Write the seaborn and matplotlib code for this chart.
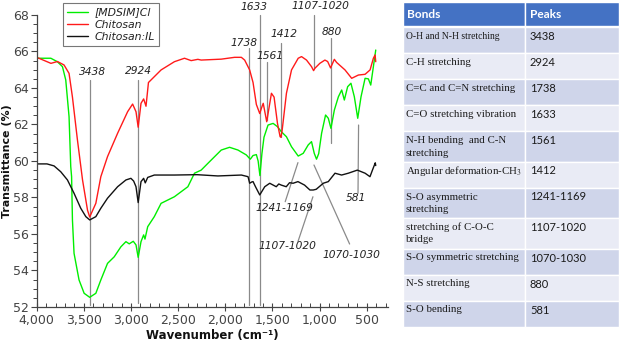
import matplotlib
matplotlib.use('Agg')
import matplotlib.pyplot as plt
import seaborn as sns
import pandas as pd
from matplotlib.ticker import MultipleLocator, StrMethodFormatter
from matplotlib.patches import Rectangle

# --- spectra (wavenumber cm-1, transmittance %) ---
SAMPLES = ["[MDSIM]Cl", "Chitosan", "Chitosan:IL"]
COLORS = ["#00ee00", "#ff1a1a", "#111111"]

IL_WN = [4000, 3850, 3781, 3727, 3692, 3657, 3639, 3630, 3621, 3604, 3551, 3497, 3438, 3373,
         3320, 3249, 3178, 3107, 3054, 3019, 2976, 2947, 2924, 2894, 2866, 2852, 2823, 2753,
         2681, 2540, 2397, 2327, 2256, 2185, 2043, 1955, 1866, 1777, 1745, 1735, 1706, 1671,
         1652, 1633, 1612, 1590, 1547, 1493, 1447, 1405, 1352, 1298, 1227, 1174, 1121, 1086,
         1057, 1033, 1010, 979, 937, 908, 880, 844, 801, 766, 738, 703, 668, 632, 596, 561,
         518, 483, 458, 430, 405]
IL_T = [65.63, 65.63, 65.44, 65.17, 64.44, 62.43, 59.69, 59.14, 56.77, 54.94, 53.48, 52.75,
        52.53, 52.75, 53.48, 54.39, 54.75, 55.3, 55.58, 55.46, 55.6, 55.4, 54.72, 55.58, 55.95,
        55.72, 56.4, 56.95, 57.68, 58.04, 58.59, 59.33, 59.5, 59.87, 60.6, 60.75, 60.6, 60.33,
        60.15, 60.1, 60.3, 60.35, 60.0, 59.2, 60.4, 61.3, 61.97, 62.06, 61.88, 61.6, 61.33,
        60.78, 60.27, 60.42, 60.88, 61.06, 60.42, 60.1, 60.4, 61.52, 62.52, 62.34, 61.79, 62.79,
        63.52, 63.89, 63.34, 64.07, 64.26, 63.52, 62.34, 63.52, 64.53, 64.5, 64.16, 65.17, 66.08]

CS_WN = [4000, 3849, 3780, 3710, 3657, 3621, 3568, 3514, 3461, 3438, 3373, 3320, 3249, 3142,
         3036, 2983, 2947, 2924, 2894, 2866, 2841, 2815, 2681, 2540, 2433, 2362, 2291, 2256,
         2043, 1902, 1830, 1795, 1742, 1706, 1671, 1635, 1610, 1598, 1561, 1511, 1483, 1447,
         1419, 1410, 1397, 1352, 1298, 1227, 1192, 1139, 1086, 1064, 1050, 998, 944, 915, 884,
         844, 820, 731, 660, 589, 518, 465, 430, 412, 405]
CS_T = [65.68, 65.35, 65.45, 65.26, 64.8, 63.5, 61.15, 58.96, 57.3, 56.93, 57.68, 59.14, 60.24,
        61.52, 62.7, 63.12, 62.7, 61.85, 63.16, 63.4, 63.0, 64.3, 64.99, 65.44, 65.63, 65.5,
        65.57, 65.53, 65.58, 65.68, 65.68, 65.53, 64.99, 64.3, 63.1, 62.6, 63.0, 63.16, 62.15,
        63.71, 63.5, 62.06, 61.33, 61.3, 61.7, 63.71, 64.99, 65.63, 65.72, 65.53, 65.17, 64.95,
        65.08, 65.35, 65.53, 65.45, 65.1, 65.57, 65.4, 64.99, 64.53, 64.71, 64.75, 64.99, 65.63,
        65.81, 65.44]

CSIL_WN = [4000, 3891, 3816, 3745, 3674, 3604, 3533, 3479, 3438, 3373, 3320, 3249, 3142, 3054,
           3001, 2972, 2947, 2924, 2894, 2866, 2849, 2823, 2753, 2540, 2300, 2079, 1830, 1759,
           1742, 1720, 1706, 1681, 1635, 1582, 1529, 1500, 1460, 1433, 1407, 1354, 1319, 1281,
           1230, 1160, 1103, 1068, 1036, 961, 908, 837, 767, 696, 600, 518, 466, 440, 419, 410,
           405]
CSIL_T = [59.84, 59.84, 59.73, 59.41, 58.96, 58.23, 57.41, 56.95, 56.77, 56.95, 57.41, 57.96,
          58.59, 58.96, 59.05, 58.9, 58.59, 57.72, 58.87, 59.05, 58.8, 59.1, 59.23, 59.23, 59.25,
          59.18, 59.23, 59.14, 58.78, 58.85, 58.87, 58.6, 58.14, 58.59, 58.78, 58.7, 58.59, 58.74,
          58.68, 58.59, 58.81, 58.78, 58.87, 58.68, 58.41, 58.41, 58.45, 58.78, 58.87, 59.33,
          59.23, 59.33, 59.5, 59.33, 59.14, 59.5, 59.78, 59.9, 59.75]

# peak annotations (upper group: vertical markers)
TOP_LABELS = ["3438", "2924", "1738", "1633", "1561", "1412", "1107-1020", "880"]
TOP_POS = [3438, 2924, 1745, 1633, 1561, 1410, 1064, 880]
TOP_LINE_HI = [64.45, 64.45, 66.2, 68.0, 65.42, 66.47, 68.0, 66.74]
TOP_LINE_LO = [52.1, 52.2, 52.1, 52.1, 62.25, 61.3, 65.08, 60.99]
TOP_TEXT_X = [3405, 2924, 1803, 1697, 1527, 1383, 993, 876]
TOP_TEXT_Y = [64.88, 64.93, 66.45, 68.42, 65.75, 66.94, 68.49, 67.08]

# lower group: slanted leader lines
LOW_LABELS = ["1241-1169", "1107-1020", "1070-1030", "581"]
LOW_FROM_X = [1230, 1071, 1060, 587]
LOW_FROM_Y = [59.91, 58.04, 59.78, 61.97]
LOW_TO_X = [1365, 1230, 682, 593]
LOW_TO_Y = [57.77, 55.58, 55.45, 58.23]
LOW_TEXT_X = [1372, 1343, 664, 611]
LOW_TEXT_Y = [57.44, 55.34, 54.85, 57.96]

# table on the right
TABLE_HEADER = ["Bonds", "Peaks"]
BONDS = ["O-H and N-H stretching", "C-H stretching", "C=C and C=N stretching",
         "C=O stretching vibration", "N-H bending  and C-N\nstretching",
         "Angular deformation-CH$_3$", "S-O asymmetric\nstretching",
         "stretching of C-O-C\nbridge", "S-O symmetric stretching", "N-S stretching",
         "S-O bending"]
PEAKS = ["3438", "2924", "1738", "1633", "1561", "1412", "1241-1169", "1107-1020",
         "1070-1030", "880", "581"]

sns.set_style("ticks")
plt.rcParams['font.family'] = ['DejaVu Sans']
plt.rcParams['mathtext.fontset'] = 'stix'

fig = plt.figure(figsize=(6.21, 3.43), dpi=100)
ax = fig.add_axes([0.0591, 0.1050, 0.5657, 0.8513])

frames = []
for name, wn, tr in zip(SAMPLES, [IL_WN, CS_WN, CSIL_WN], [IL_T, CS_T, CSIL_T]):
    frames.append(pd.DataFrame({"Wavenumber": wn, "T": tr, "Sample": name}))
df = pd.concat(frames, ignore_index=True)

sns.lineplot(data=df, x="Wavenumber", y="T", hue="Sample", hue_order=SAMPLES,
             palette=dict(zip(SAMPLES, COLORS)), sort=False, estimator=None,
             linewidth=1.0, ax=ax)

gray = "#8a8a8a"
for lab, x, hi, lo, tx, ty in zip(TOP_LABELS, TOP_POS, TOP_LINE_HI, TOP_LINE_LO, TOP_TEXT_X, TOP_TEXT_Y):
    ax.plot([x, x], [lo, hi], color=gray, lw=0.9, zorder=1, clip_on=False)
    ax.text(tx, ty, lab, ha="center", va="center", fontstyle="italic", fontsize=7.7,
            color="#222222", clip_on=False)

for lab, x0, y0, x1, y1, tx, ty in zip(LOW_LABELS, LOW_FROM_X, LOW_FROM_Y, LOW_TO_X, LOW_TO_Y,
                                       LOW_TEXT_X, LOW_TEXT_Y):
    ax.plot([x0, x1], [y0, y1], color=gray, lw=0.9, zorder=1)
    ax.text(tx, ty, lab, ha="center", va="center", fontstyle="italic", fontsize=7.7,
            color="#222222")

ax.set_xlim(4000, 275)
ax.set_ylim(52, 68)
ax.xaxis.set_major_locator(MultipleLocator(500))
ax.xaxis.set_minor_locator(MultipleLocator(100))
ax.yaxis.set_major_locator(MultipleLocator(2))
ax.yaxis.set_minor_locator(MultipleLocator(0.5))
ax.xaxis.set_major_formatter(StrMethodFormatter("{x:,.0f}"))
ax.tick_params(axis="x", which="major", direction="inout", length=6, width=0.8,
               labelsize=9, colors="#444444", pad=2)
ax.tick_params(axis="x", which="minor", direction="in", length=3, width=0.7, colors="#444444")
ax.tick_params(axis="y", which="major", direction="out", length=4, width=0.8,
               labelsize=9, colors="#444444", pad=1.5)
ax.tick_params(axis="y", which="minor", direction="out", length=3, width=0.7, colors="#444444")
sns.despine(ax=ax)
for s in ["left", "bottom"]:
    ax.spines[s].set_color("#444444")
    ax.spines[s].set_linewidth(0.9)

ax.set_xlabel("Wavenumber (cm⁻¹)", fontweight="bold", fontsize=8.5, color="#111111")
ax.set_ylabel("Transmittance (%)", fontweight="bold", fontsize=7.9, color="#111111")
ax.xaxis.set_label_coords(0.5, -0.075)
ax.yaxis.set_label_coords(-0.071, 0.5)

handles, labels = ax.get_legend_handles_labels()
leg = ax.legend(handles, labels, loc="upper left", bbox_to_anchor=(63 / 621, 1 - 3 / 343),
                bbox_transform=fig.transFigure, prop={"style": "italic", "size": 7.8},
                frameon=True, fancybox=False, edgecolor="#777777", framealpha=1,
                handlelength=1.9, handletextpad=0.6, labelspacing=0.22, borderpad=0.4,
                borderaxespad=0)
leg.get_frame().set_linewidth(0.8)
for t in leg.get_texts():
    t.set_color("#222222")

# --- table drawn in pixel coordinates ---
tax = fig.add_axes([0, 0, 1, 1])
tax.set_xlim(0, 621)
tax.set_ylim(343, 0)
tax.axis("off")

x_left, x_mid, x_right = 403, 525, 619
top = 2
head_h = 24
tax.add_patch(Rectangle((x_left, top), x_mid - x_left, head_h, facecolor="#4472c4",
                        edgecolor="white", lw=1))
tax.add_patch(Rectangle((x_mid, top), x_right - x_mid, head_h, facecolor="#4472c4",
                        edgecolor="white", lw=1))
tax.text(x_left + 3.5, top + head_h / 2 + 1, TABLE_HEADER[0], color="white", fontweight="bold",
         fontsize=8.6, family="Lato", va="center", ha="left")
tax.text(x_mid + 5, top + head_h / 2 + 1, TABLE_HEADER[1], color="white", fontweight="bold",
         fontsize=8.6, family="Lato", va="center", ha="left")

y = top + head_h + 1
for i, (bond, peak) in enumerate(zip(BONDS, PEAKS)):
    lines = bond.split("\n")
    h = 26 if len(lines) == 1 else 30.5
    fc = "#cfd5ea" if i % 2 == 0 else "#e9ebf5"
    tax.add_patch(Rectangle((x_left, y), x_mid - x_left, h, facecolor=fc, edgecolor="white", lw=1))
    tax.add_patch(Rectangle((x_mid, y), x_right - x_mid, h, facecolor=fc, edgecolor="white", lw=1))
    size = 6.9 if i == 0 else 7.8
    for k, ln in enumerate(lines):
        tax.text(x_left + 3, y + 9.5 + 12.5 * k, ln, family="Liberation Serif", fontsize=size,
                 color="#1a1a1a", va="center", ha="left")
    tax.text(x_mid + 5, y + 9.5, peak, family="Lato", fontsize=8.0, color="#1a1a1a",
             va="center", ha="left")
    y += h

fig.savefig("out.png", dpi=100)
